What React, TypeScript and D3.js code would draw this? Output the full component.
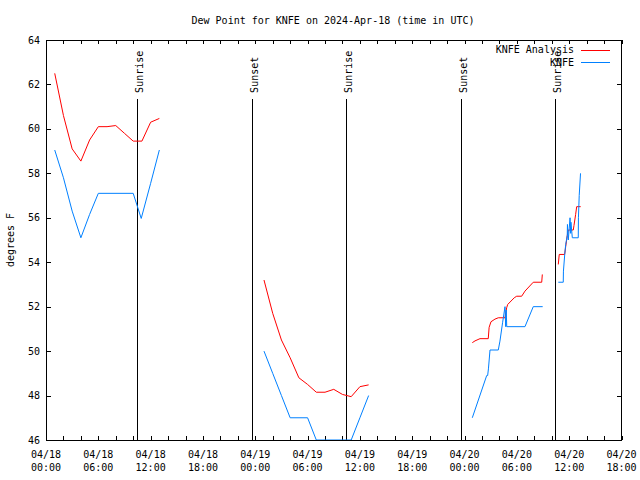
import React, { useEffect, useRef } from "react";
import * as d3 from "d3";

// ---- data ----
const anaHours: (number | null)[] = [
  1, 2, 3, 4, 5, 6, 7, 8, 9, 10, 11, 12, 13, null,
  25, 26, 27, 28, 29, 30, 31, 32, 33, 34, 35, 36, 37, null,
  48.89, 49.2, 49.77, 50.72, 50.82, 51.03, 51.49, 51.87, 52.64, 52.83, 52.95, 53.7, 53.98, 54.55, 54.93, 55.88, 56.85, 56.92, null,
  58.75, 58.86, 59.48, 59.6, 59.78, 59.9, 60.47, 60.55, 60.74, 60.86, 61.32,
];
const anaValues: (number | null)[] = [
  62.5, 60.6, 59.1, 58.55, 59.5, 60.1, 60.1, 60.15, 59.8, 59.45, 59.45, 60.3, 60.47, null,
  53.2, 51.7, 50.5, 49.7, 48.8, 48.5, 48.15, 48.15, 48.28, 48.05, 47.95, 48.4, 48.48, null,
  50.38, 50.46, 50.56, 50.56, 51.07, 51.32, 51.44, 51.5, 51.5, 51.95, 52.1, 52.4, 52.47, 52.47, 52.7, 53.1, 53.1, 53.45, null,
  53.9, 54.35, 54.35, 54.7, 55.2, 55.45, 55.45, 55.65, 56.15, 56.5, 56.5,
];
const obsHours: (number | null)[] = [
  1, 2, 3, 4, 5, 6, 10, 10.92, 12, 13, null,
  25, 26, 27, 28, 30, 31, 35, 36, 37, null,
  48.89, 50.54, 50.65, 50.74, 50.92, 51.87, 52.06, 52.37, 52.64, 52.72, 52.78, 52.84, 54.93, 55.88, 56.96, null,
  58.75, 59.32, 59.34, 59.5, 59.6, 59.78, 59.8, 59.9, 60.1, 60.17, 60.2, 60.36, 61.04, 61.06, 61.15, 61.3,
];
const obsValues: (number | null)[] = [
  59.05, 57.8, 56.3, 55.1, 56.15, 57.1, 57.1, 55.97, 57.55, 59.05, null,
  50.0, 49.0, 48.0, 47.0, 47.0, 46.0, 46.0, 47.0, 48.0, null,
  47.0, 48.9, 48.9, 49.2, 50.05, 50.05, 50.45, 51.3, 52.0, 51.1, 51.85, 51.1, 51.1, 52.0, 52.0, null,
  53.1, 53.1, 53.6, 54.4, 54.8, 55.2, 55.7, 55.0, 56.0, 55.3, 55.8, 55.1, 55.1, 56.0, 57.0, 58.0,
];
const eventHours = [10.45, 23.64, 34.42, 47.63, 58.4];
const eventLabels = ["Sunrise", "Sunset", "Sunrise", "Sunset", "Sunrise"];
const eventTopValue = 61.35;
const yTicks = [46, 48, 50, 52, 54, 56, 58, 60, 62, 64];
const seriesNames = ["KNFE Analysis", "KNFE"];
const seriesColors = ["#ff0000", "#0080ff"];
const titleText = "Dew Point for KNFE on 2024-Apr-18 (time in UTC)";
const yLabel = "degrees F";

const start = Date.UTC(2024, 3, 18, 0, 0);
const end = Date.UTC(2024, 3, 20, 18, 0);
const hourMs = 3600 * 1000;

export default function App() {
  const ref = useRef<SVGSVGElement>(null);
  useEffect(() => {
    const svg = d3.select(ref.current);
    svg.selectAll("*").remove();
    const W = 640, H = 480;
    const L = 46, R = 621.5, T = 40, B = 440;
    const font = "DejaVu Sans Mono, monospace";
    svg.append("rect").attr("width", W).attr("height", H).attr("fill", "#fff");

    const x = d3.scaleUtc().domain([new Date(start), new Date(end)]).range([L, R]);
    const y = d3.scaleLinear().domain([46, 64]).range([B, T]);
    const hx = (h: number) => x(new Date(start + h * hourMs));

    const g = svg.append("g");

    // ticks
    const minorTicks = x.ticks(d3.utcHour.every(2)!);
    minorTicks.forEach((t) => {
      const px = Math.round(x(t)) + 0.5;
      g.append("line").attr("x1", px).attr("x2", px).attr("y1", B).attr("y2", B - 4).attr("stroke", "#000").attr("shape-rendering", "crispEdges");
      g.append("line").attr("x1", px).attr("x2", px).attr("y1", T).attr("y2", T + 4).attr("stroke", "#000").attr("shape-rendering", "crispEdges");
    });
    yTicks.forEach((v) => {
      const py = Math.round(y(v)) + 0.5;
      g.append("line").attr("x1", L).attr("x2", L + 5).attr("y1", py).attr("y2", py).attr("stroke", "#000").attr("shape-rendering", "crispEdges");
      g.append("line").attr("x1", R).attr("x2", R - 5).attr("y1", py).attr("y2", py).attr("stroke", "#000").attr("shape-rendering", "crispEdges");
      g.append("text").attr("x", L - 6).attr("y", y(v) + 3.5).attr("text-anchor", "end")
        .attr("font-family", font).attr("font-size", 10).text(String(v));
    });
    const fmtD = d3.utcFormat("%m/%d");
    const fmtT = d3.utcFormat("%H:%M");
    x.ticks(d3.utcHour.every(6)!).forEach((t) => {
      const tx = g.append("text").attr("text-anchor", "middle").attr("font-family", font).attr("font-size", 10);
      tx.append("tspan").attr("x", x(t)).attr("y", 458).text(fmtD(t));
      tx.append("tspan").attr("x", x(t)).attr("y", 471).text(fmtT(t));
    });

    // sunrise / sunset lines
    eventHours.forEach((h, i) => {
      const px = Math.round(hx(h)) + 0.5;
      g.append("line").attr("x1", px).attr("x2", px).attr("y1", y(eventTopValue)).attr("y2", B)
        .attr("stroke", "#000").attr("shape-rendering", "crispEdges");
      g.append("text").attr("transform", `translate(${px + 5},${y(eventTopValue) - 6}) rotate(-90)`)
        .attr("font-family", font).attr("font-size", 10).text(eventLabels[i]);
    });

    // series
    const mk = (hs: (number | null)[], vs: (number | null)[]) =>
      hs.map((h, i) => ({ h, v: vs[i] }));
    const line = d3.line<{ h: number | null; v: number | null }>()
      .defined((d) => d.h !== null && d.v !== null)
      .x((d) => hx(d.h as number))
      .y((d) => y(d.v as number));
    [mk(anaHours, anaValues), mk(obsHours, obsValues)].forEach((data, i) => {
      g.append("path").attr("d", line(data) || "").attr("fill", "none")
        .attr("stroke", seriesColors[i]).attr("stroke-width", 1);
    });

    // frame
    g.append("rect").attr("x", L + 0.5).attr("y", T + 0.5).attr("width", R - L - 1).attr("height", B - T)
      .attr("fill", "none").attr("stroke", "#000").attr("shape-rendering", "crispEdges");

    // legend
    seriesNames.forEach((n, i) => {
      const ly = 49.5 + i * 12.5;
      g.append("text").attr("x", 574).attr("y", ly + 3.5).attr("text-anchor", "end")
        .attr("font-family", font).attr("font-size", 10).text(n);
      g.append("line").attr("x1", 581).attr("x2", 610).attr("y1", Math.round(ly) + 0.5).attr("y2", Math.round(ly) + 0.5)
        .attr("stroke", seriesColors[i]).attr("shape-rendering", "crispEdges");
    });

    // title and y label
    svg.append("text").attr("x", 333).attr("y", 24).attr("text-anchor", "middle")
      .attr("font-family", font).attr("font-size", 10).text(titleText);
    svg.append("text").attr("transform", `translate(14,${(T + B) / 2}) rotate(-90)`).attr("text-anchor", "middle")
      .attr("font-family", font).attr("font-size", 10).text(yLabel);
  }, []);
  return (
    <svg ref={ref} width={640} height={480} style={{ position: "absolute", left: 0, top: 0 }} />
  );
}
